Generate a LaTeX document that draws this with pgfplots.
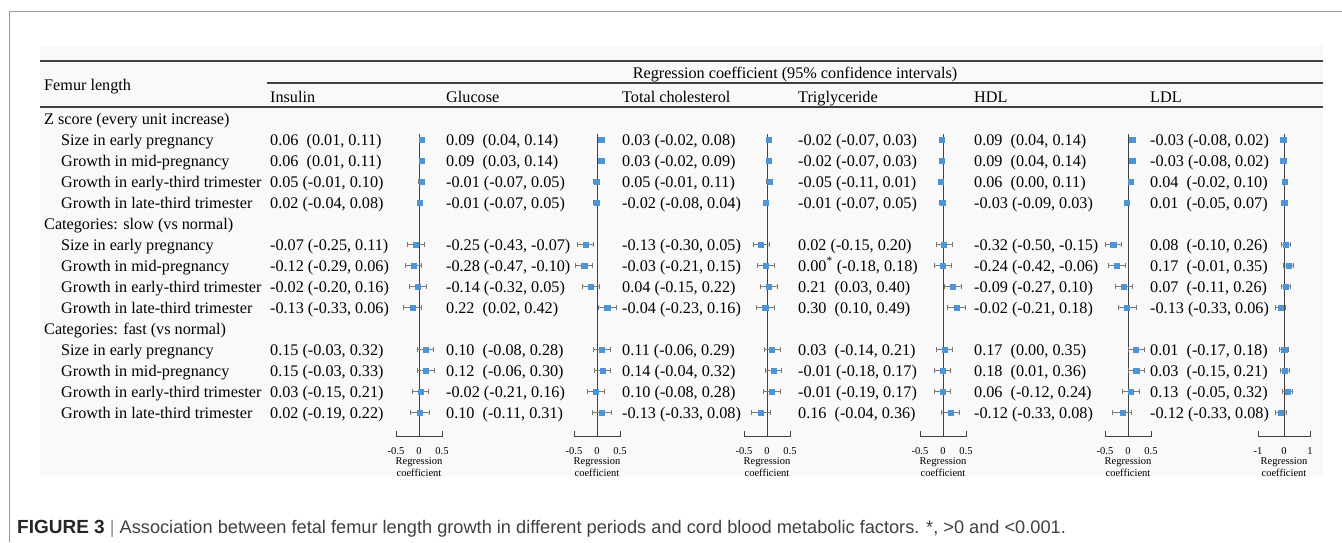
\documentclass[border=0pt]{standalone}
\usepackage{pgfplots}
\pgfplotsset{compat=1.18}
\usepackage{pgfplotstable}
\usepackage{fontspec}
\setmainfont{Liberation Serif}
\newfontfamily\capfont{Liberation Sans}
\definecolor{mblue}{RGB}{79,148,214}
\definecolor{ebar}{RGB}{120,120,120}

\pgfplotstableread{
r est lo hi
1 0.06 0.01 0.11
2 0.06 0.01 0.11
3 0.05 -0.01 0.10
4 0.02 -0.04 0.08
6 -0.07 -0.25 0.11
7 -0.12 -0.29 0.06
8 -0.02 -0.20 0.16
9 -0.13 -0.33 0.06
11 0.15 -0.03 0.32
12 0.15 -0.03 0.33
13 0.03 -0.15 0.21
14 0.02 -0.19 0.22
}\tIns
\pgfplotstableread{
r est lo hi
1 0.09 0.04 0.14
2 0.09 0.03 0.14
3 -0.01 -0.07 0.05
4 -0.01 -0.07 0.05
6 -0.25 -0.43 -0.07
7 -0.28 -0.47 -0.10
8 -0.14 -0.32 0.05
9 0.22 0.02 0.42
11 0.10 -0.08 0.28
12 0.12 -0.06 0.30
13 -0.02 -0.21 0.16
14 0.10 -0.11 0.31
}\tGlu
\pgfplotstableread{
r est lo hi
1 0.03 -0.02 0.08
2 0.03 -0.02 0.09
3 0.05 -0.01 0.11
4 -0.02 -0.08 0.04
6 -0.13 -0.30 0.05
7 -0.03 -0.21 0.15
8 0.04 -0.15 0.22
9 -0.04 -0.23 0.16
11 0.11 -0.06 0.29
12 0.14 -0.04 0.32
13 0.10 -0.08 0.28
14 -0.13 -0.33 0.08
}\tTC
\pgfplotstableread{
r est lo hi
1 -0.02 -0.07 0.03
2 -0.02 -0.07 0.03
3 -0.05 -0.11 0.01
4 -0.01 -0.07 0.05
6 0.02 -0.15 0.20
7 0.00 -0.18 0.18
8 0.21 0.03 0.40
9 0.30 0.10 0.49
11 0.03 -0.14 0.21
12 -0.01 -0.18 0.17
13 -0.01 -0.19 0.17
14 0.16 -0.04 0.36
}\tTG
\pgfplotstableread{
r est lo hi
1 0.09 0.04 0.14
2 0.09 0.04 0.14
3 0.06 0.00 0.11
4 -0.03 -0.09 0.03
6 -0.32 -0.50 -0.15
7 -0.24 -0.42 -0.06
8 -0.09 -0.27 0.10
9 -0.02 -0.21 0.18
11 0.17 0.00 0.35
12 0.18 0.01 0.36
13 0.06 -0.12 0.24
14 -0.12 -0.33 0.08
}\tHDL
\pgfplotstableread{
r est lo hi
1 -0.03 -0.08 0.02
2 -0.03 -0.08 0.02
3 0.04 -0.02 0.10
4 0.01 -0.05 0.07
6 0.08 -0.10 0.26
7 0.17 -0.01 0.35
8 0.07 -0.11 0.26
9 -0.13 -0.33 0.06
11 0.01 -0.17 0.18
12 0.03 -0.15 0.21
13 0.13 -0.05 0.32
14 -0.12 -0.33 0.08
}\tLDL

\pgfplotsset{
  forest/.style={
    x=46pt, y=21pt, xmin=-0.5, xmax=0.5, ymin=-15.15, ymax=-0.72,
    enlargelimits=false, clip=false,
    axis x line*=bottom, axis y line*=center,
    axis line style={-, draw=black!75, line width=1pt},
    ytick=\empty,
    xtick={-0.5,0,0.5}, xticklabels={-0.5,0,0.5},
    tick align=inside, major tick length=6pt,
    xtick style={draw=black!75, line width=1pt},
    xticklabel style={font=\fontsize{10.5}{12}\selectfont, inner sep=1.5pt, yshift=-9pt},
    xlabel={Regression\\coefficient},
    xlabel style={align=center, font=\fontsize{10.5}{12.5}\selectfont, inner sep=1pt},
    anchor=north,
  },
  fp/.style={only marks, mark=square*, mark size=2.6pt,
    mark options={draw=mblue, fill=mblue},
    error bars/.cd, x dir=both, x explicit,
    error mark=|,
    error bar style={draw=ebar, line width=0.7pt},
    error mark options={draw=ebar, line width=0.7pt, mark size=2.8pt}},
}
\newcommand{\fplot}[1]{\addplot[fp] table[x=est, y expr=-\thisrow{r},
  x error plus expr=\thisrow{hi}-\thisrow{est},
  x error minus expr=\thisrow{est}-\thisrow{lo}] {#1};}
\newcommand{\cell}[3]{\node[anchor=base west] at (#1,{124+21*#2}) {#3};}

\begin{document}
\begin{tikzpicture}
\path[use as bounding box] (0pt,0pt) rectangle (1342pt,-542pt);
\begin{scope}[x=1pt,y=-1pt, every node/.style={font=\fontsize{16.2}{19}\selectfont, inner sep=0pt}]
  \fill[black!2.5] (40,45) rectangle (1323,477);
  \draw[black!40, line width=1pt] (9,542)--(9,11)--(1342,11);
  \draw[black!75, line width=1.2pt] (40,61)--(1323,61);
  \draw[black!75, line width=1.2pt] (267,83)--(1323,83);
  \draw[black!75, line width=1.2pt] (40,107)--(1323,107);
  \node[anchor=base west] at (44,90) {Femur length};
  \node[anchor=base] at (795,78) {Regression coefficient (95\% confidence intervals)};
  \node[anchor=base west] at (270,102) {Insulin};
  \node[anchor=base west] at (446,102) {Glucose};
  \node[anchor=base west] at (622,102) {Total cholesterol};
  \node[anchor=base west] at (798,102) {Triglyceride};
  \node[anchor=base west] at (974,102) {HDL};
  \node[anchor=base west] at (1150,102) {LDL};
  % row labels
  \cell{44}{0}{Z score (every unit increase)}
  \cell{61}{1}{Size in early pregnancy}
  \cell{61}{2}{Growth in mid-pregnancy}
  \cell{61}{3}{Growth in early-third trimester}
  \cell{61}{4}{Growth in late-third trimester}
  \cell{44}{5}{Categories: slow (vs normal)}
  \cell{61}{6}{Size in early pregnancy}
  \cell{61}{7}{Growth in mid-pregnancy}
  \cell{61}{8}{Growth in early-third trimester}
  \cell{61}{9}{Growth in late-third trimester}
  \cell{44}{10}{Categories: fast (vs normal)}
  \cell{61}{11}{Size in early pregnancy}
  \cell{61}{12}{Growth in mid-pregnancy}
  \cell{61}{13}{Growth in early-third trimester}
  \cell{61}{14}{Growth in late-third trimester}
  % Insulin
  \cell{270}{1}{0.06~~(0.01, 0.11)}
  \cell{270}{2}{0.06~~(0.01, 0.11)}
  \cell{270}{3}{0.05 (-0.01, 0.10)}
  \cell{270}{4}{0.02 (-0.04, 0.08)}
  \cell{270}{6}{-0.07 (-0.25, 0.11)}
  \cell{270}{7}{-0.12 (-0.29, 0.06)}
  \cell{270}{8}{-0.02 (-0.20, 0.16)}
  \cell{270}{9}{-0.13 (-0.33, 0.06)}
  \cell{270}{11}{0.15 (-0.03, 0.32)}
  \cell{270}{12}{0.15 (-0.03, 0.33)}
  \cell{270}{13}{0.03 (-0.15, 0.21)}
  \cell{270}{14}{0.02 (-0.19, 0.22)}
  % Glucose
  \cell{446}{1}{0.09~~(0.04, 0.14)}
  \cell{446}{2}{0.09~~(0.03, 0.14)}
  \cell{446}{3}{-0.01 (-0.07, 0.05)}
  \cell{446}{4}{-0.01 (-0.07, 0.05)}
  \cell{446}{6}{-0.25 (-0.43, -0.07)}
  \cell{446}{7}{-0.28 (-0.47, -0.10)}
  \cell{446}{8}{-0.14 (-0.32, 0.05)}
  \cell{446}{9}{0.22~~(0.02, 0.42)}
  \cell{446}{11}{0.10~~(-0.08, 0.28)}
  \cell{446}{12}{0.12~~(-0.06, 0.30)}
  \cell{446}{13}{-0.02 (-0.21, 0.16)}
  \cell{446}{14}{0.10~~(-0.11, 0.31)}
  % Total cholesterol
  \cell{622}{1}{0.03 (-0.02, 0.08)}
  \cell{622}{2}{0.03 (-0.02, 0.09)}
  \cell{622}{3}{0.05 (-0.01, 0.11)}
  \cell{622}{4}{-0.02 (-0.08, 0.04)}
  \cell{622}{6}{-0.13 (-0.30, 0.05)}
  \cell{622}{7}{-0.03 (-0.21, 0.15)}
  \cell{622}{8}{0.04 (-0.15, 0.22)}
  \cell{622}{9}{-0.04 (-0.23, 0.16)}
  \cell{622}{11}{0.11 (-0.06, 0.29)}
  \cell{622}{12}{0.14 (-0.04, 0.32)}
  \cell{622}{13}{0.10 (-0.08, 0.28)}
  \cell{622}{14}{-0.13 (-0.33, 0.08)}
  % Triglyceride
  \cell{798}{1}{-0.02 (-0.07, 0.03)}
  \cell{798}{2}{-0.02 (-0.07, 0.03)}
  \cell{798}{3}{-0.05 (-0.11, 0.01)}
  \cell{798}{4}{-0.01 (-0.07, 0.05)}
  \cell{798}{6}{0.02 (-0.15, 0.20)}
  \cell{798}{7}{0.00\textsuperscript{*} (-0.18, 0.18)}
  \cell{798}{8}{0.21~~(0.03, 0.40)}
  \cell{798}{9}{0.30~~(0.10, 0.49)}
  \cell{798}{11}{0.03~~(-0.14, 0.21)}
  \cell{798}{12}{-0.01 (-0.18, 0.17)}
  \cell{798}{13}{-0.01 (-0.19, 0.17)}
  \cell{798}{14}{0.16~~(-0.04, 0.36)}
  % HDL
  \cell{974}{1}{0.09~~(0.04, 0.14)}
  \cell{974}{2}{0.09~~(0.04, 0.14)}
  \cell{974}{3}{0.06~~(0.00, 0.11)}
  \cell{974}{4}{-0.03 (-0.09, 0.03)}
  \cell{974}{6}{-0.32 (-0.50, -0.15)}
  \cell{974}{7}{-0.24 (-0.42, -0.06)}
  \cell{974}{8}{-0.09 (-0.27, 0.10)}
  \cell{974}{9}{-0.02 (-0.21, 0.18)}
  \cell{974}{11}{0.17~~(0.00, 0.35)}
  \cell{974}{12}{0.18~~(0.01, 0.36)}
  \cell{974}{13}{0.06~~(-0.12, 0.24)}
  \cell{974}{14}{-0.12 (-0.33, 0.08)}
  % LDL
  \cell{1150}{1}{-0.03 (-0.08, 0.02)}
  \cell{1150}{2}{-0.03 (-0.08, 0.02)}
  \cell{1150}{3}{0.04~~(-0.02, 0.10)}
  \cell{1150}{4}{0.01~~(-0.05, 0.07)}
  \cell{1150}{6}{0.08~~(-0.10, 0.26)}
  \cell{1150}{7}{0.17~~(-0.01, 0.35)}
  \cell{1150}{8}{0.07~~(-0.11, 0.26)}
  \cell{1150}{9}{-0.13 (-0.33, 0.06)}
  \cell{1150}{11}{0.01~~(-0.17, 0.18)}
  \cell{1150}{12}{0.03~~(-0.15, 0.21)}
  \cell{1150}{13}{0.13~~(-0.05, 0.32)}
  \cell{1150}{14}{-0.12 (-0.33, 0.08)}
  % caption
  \node[anchor=base west] at (17,533.5) {\capfont\color{black!85}\fontsize{19}{22}\selectfont\bfseries FIGURE 3\mdseries\fontsize{18.2}{22}\selectfont\ \color{black!45}|\ \color{black!75}Association between fetal femur length growth in different periods and cord blood metabolic factors. *, >0 and <0.001.};
\end{scope}

\begin{axis}[forest, at={(419pt,-133.6pt)}] \fplot{\tIns} \end{axis}
\begin{axis}[forest, at={(597pt,-133.6pt)}] \fplot{\tGlu} \end{axis}
\begin{axis}[forest, at={(767pt,-133.6pt)}] \fplot{\tTC} \end{axis}
\begin{axis}[forest, at={(943pt,-133.6pt)}] \fplot{\tTG} \end{axis}
\begin{axis}[forest, at={(1128pt,-133.6pt)}] \fplot{\tHDL} \end{axis}
\begin{axis}[forest, at={(1284pt,-133.6pt)}, x=26pt, xmin=-1, xmax=1,
  xtick={-1,0,1}, xticklabels={-1,0,1}] \fplot{\tLDL} \end{axis}
\end{tikzpicture}
\end{document}
